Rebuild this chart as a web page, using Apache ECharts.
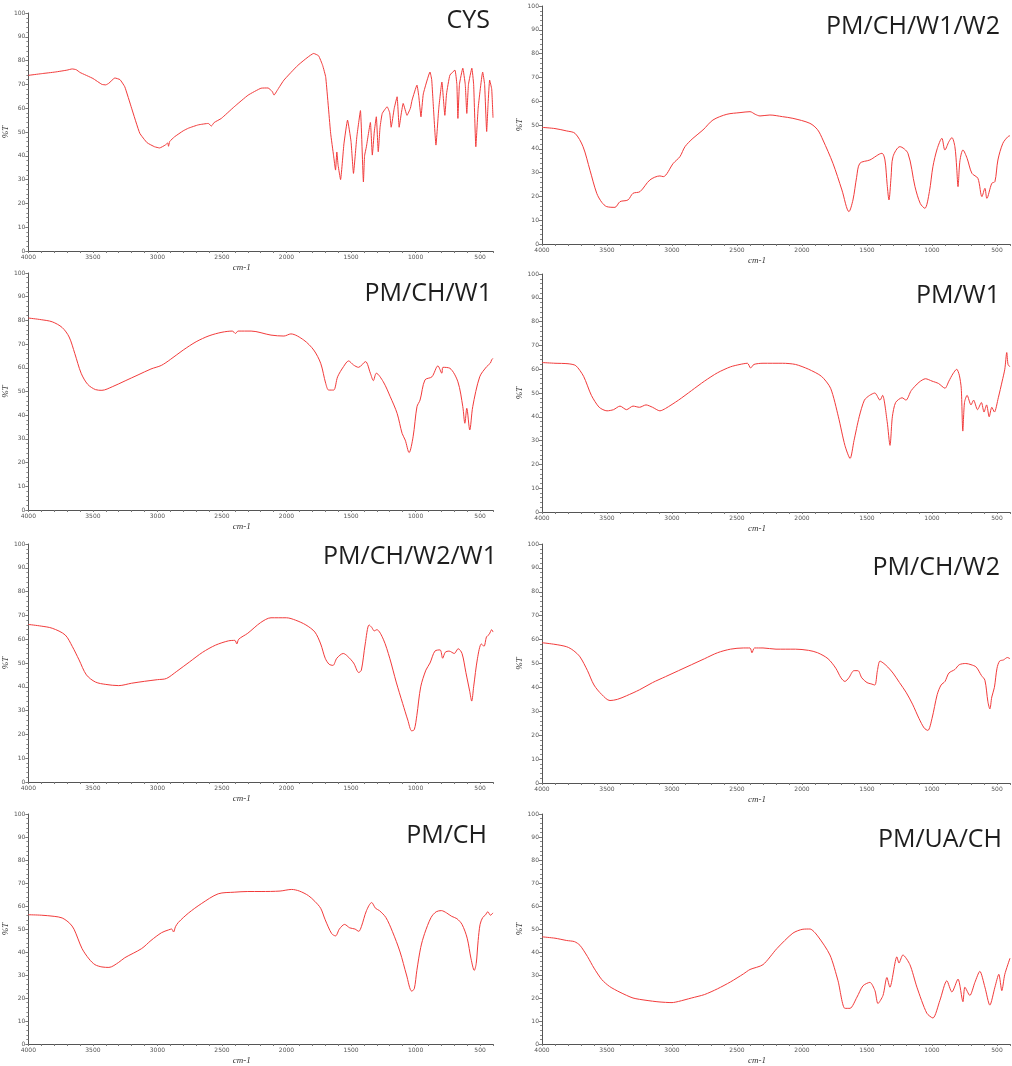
<!DOCTYPE html>
<html>
<head>
<meta charset="utf-8">
<script src="https://cdn.jsdelivr.net/npm/echarts@6/dist/echarts.min.js"></script>
<style>
  html, body { margin: 0; padding: 0; background: #fff; }
  #chart { width: 1012px; height: 1066px; }
</style>
</head>
<body>
<div id="chart"></div>
<script>
// ---- FT-IR transmittance spectra (%T vs wavenumber, cm-1) ----
const xTickLabels = [4000, 3500, 3000, 2500, 2000, 1500, 1000, 500];
const yTickLabels = [0, 10, 20, 30, 40, 50, 60, 70, 80, 90, 100];
const sampleNames = ['CYS', 'PM/CH/W1/W2', 'PM/CH/W1', 'PM/W1', 'PM/CH/W2/W1', 'PM/CH/W2', 'PM/CH', 'PM/UA/CH'];

const wnCYS = [4000,3900,3792,3700,3661,3630,3599,3500,3430,3400,3376,3330,3290,3253,3200,3137,3080,3022,2983,2940,2920,2914,2905,2867,2800,2760,2683,2606,2582,2560,2505,2405,2297,2197,2143,2110,2097,2060,2020,1912,1789,1751,1720,1696,1658,1635,1620,1610,1600,1581,1555,1527,1500,1481,1455,1427,1404,1395,1381,1350,1335,1320,1304,1289,1275,1258,1220,1200,1189,1165,1143,1127,1110,1096,1066,1040,1027,989,975,958,940,888,875,865,842,820,796,773,760,734,695,680,672,660,634,615,603,590,564,550,533,515,480,465,449,438,426,410,400];
const tCYS  = [73.8,74.5,75.2,76,76.5,76.2,75,72.5,70,69.8,70.5,72.7,72,69,60,49.5,45.5,43.8,43.3,44.5,45.4,44,46,48,50.5,51.6,53,53.6,52.5,54,55.7,60.6,65.5,68.4,68.5,67,65.5,68.5,71.8,78,83,82,78,73,49.5,40,34,41.6,36,30,45,55,46,32.6,48,59,29,40,43.8,54,40.3,50,56.4,41.7,52,57.8,60.6,58,52,60,64.8,52,58,62,57,60,63.4,69.7,65,56.4,66,75.2,72,63.4,44.5,60,71,57,66,73.9,76,70,55.7,70,76.8,70,57.8,70,76.8,70,43.8,60,75.2,70,50.2,62,71.8,68,56];

const wnW1W2 = [4000,3900,3810,3746,3685,3631,3579,3540,3502,3439,3400,3339,3300,3246,3170,3093,3067,2990,2939,2900,2839,2762,2685,2578,2477,2400,2360,2323,2247,2150,2070,1939,1880,1839,1762,1693,1639,1608,1580,1555,1478,1385,1362,1345,1331,1315,1300,1247,1185,1131,1090,1055,1020,993,960,924,901,870,847,824,810,800,785,762,730,693,647,616,593,578,540,516,493,455,416,400];
const tW1W2  = [49,48.5,47.5,46.5,41,31,21.3,17.5,15.7,15.4,17.8,18.5,21.3,22,26.9,28.6,28.3,33.9,36.7,40.9,44.4,47.9,52.1,54.5,55.2,55.6,54.5,53.8,54.2,53.5,52.8,50.7,48,43.7,33.9,22.7,13.6,18.5,28,33.9,35.3,38.1,35.3,25,18.5,28,36.7,40.9,38.1,24.1,17,15,22,32.5,40,44.4,39.5,43,44.7,40.9,32,24.1,35,39.5,36,29.7,27.6,19.9,23.4,19.2,25.5,26.2,35.3,42.3,45.1,45.5];

const wnW1 = [4000,3900,3815,3738,3684,3640,3591,3540,3480,3430,3350,3250,3150,3050,2970,2900,2800,2700,2600,2500,2420,2395,2375,2274,2120,2020,1966,1866,1789,1735,1696,1673,1635,1604,1558,1519,1481,1442,1388,1350,1327,1304,1250,1196,1143,1104,1080,1050,1019,989,965,927,873,827,796,788,734,672,634,618,603,580,557,503,449,420,411,400];
const tW1  = [81,80.3,79.4,77,73,66,57.7,53,50.8,50.5,52,54.5,57,59.5,61,63.5,67.5,71,73.5,75,75.5,74.5,75.5,75.5,73.8,73.4,74.3,71.7,67.5,61.9,53.4,50.6,50.6,56.2,60.5,62.9,61.2,60.2,62.6,57.7,54.6,57.7,54.1,47.8,40.8,32.3,29.5,24.2,30.9,43.6,46.4,54.9,56.2,60.8,57.7,60.2,59.8,54.1,43.6,36.6,42.9,33.8,43.6,56.2,60.5,62,63.3,64];

const wnPMW1 = [4000,3900,3800,3740,3680,3620,3560,3500,3450,3400,3350,3300,3250,3200,3150,3093,3050,2950,2850,2750,2650,2550,2477,2420,2395,2370,2300,2150,2050,1950,1850,1780,1720,1670,1630,1600,1560,1520,1480,1440,1400,1380,1345,1323,1305,1280,1230,1200,1160,1100,1050,1000,950,900,870,840,810,790,775,763,750,730,700,680,650,620,600,580,560,540,520,490,460,440,425,415,400];
const tPMW1  = [62.8,62.5,62.3,61.5,57,49,44,42.5,43,44.5,43,44.5,44,45,44,42.5,43.5,47,51,55,58.5,61,62,62.5,60.5,62,62.5,62.5,62,60,57,52,40,28,22.5,30,40,47,49,50,47,49,38,28,40,46,48,47,51,54.5,56,55,54,52,55,58,60,57.5,52,34,46,49,45,47,43,46,42,45,40,44,42,48,55,60,67,62,61];

const wnW2W1 = [4000,3900,3815,3715,3660,3607,3550,3480,3400,3300,3200,3100,3000,2930,2850,2750,2650,2550,2450,2400,2385,2370,2300,2200,2120,2000,1930,1850,1780,1735,1700,1670,1640,1610,1560,1530,1480,1440,1420,1390,1360,1340,1320,1300,1250,1200,1150,1100,1060,1030,1010,990,960,920,888,850,810,790,770,740,700,670,640,610,580,565,550,520,490,470,450,430,410,400];
const tW2W1  = [66.2,65.5,64.6,61.8,57,51.3,45,42,41,40.5,41.5,42.3,43,43.5,46.5,50.5,54.5,57.5,59.3,59.5,58,60,62.5,67,69,69,68,66,63,58,52,49.5,49,52,54,53,50,46,47,58,66,65,63.5,64,60,52,42,33,26,21.5,22,28,40,47,50,55,55.5,52,54.5,55,54,56,54,46,38,34,40,52,58,57,61,62,64,63];

const wnW2 = [4000,3900,3810,3760,3708,3650,3600,3540,3477,3420,3350,3250,3150,3050,2950,2850,2750,2650,2550,2450,2400,2385,2365,2300,2200,2050,1950,1880,1800,1740,1700,1670,1640,1600,1570,1540,1500,1470,1440,1420,1400,1370,1340,1300,1250,1200,1150,1100,1060,1032,1000,960,930,900,870,824,790,740,700,660,620,593,570,555,540,520,500,480,450,420,400];
const tW2  = [58.7,58,57,55.5,52.8,47,41,37,34.5,35,36.5,39,42,44.5,47,49.5,52,54.5,56,56.5,56.5,54.5,56.5,56.5,56,56,55.5,54.5,52,48,44,42.5,44,47,47,44,42,41.5,41,47,51,50,48.5,46,42,38,33,27,23,22,27,37,41,42.5,46,47.5,49.5,50,49.5,48.5,45,43,34,31,36,40,48,51,51.5,52.5,52];

const wnCH = [4000,3900,3800,3738,3680,3646,3584,3530,3484,3430,3376,3300,3253,3122,3050,2968,2914,2890,2875,2860,2837,2760,2660,2529,2405,2300,2197,2050,1960,1900,1830,1780,1735,1700,1650,1620,1590,1550,1510,1470,1440,1420,1380,1340,1310,1280,1230,1180,1120,1070,1030,1010,990,960,930,880,840,800,760,720,680,640,600,570,545,530,515,500,480,460,440,420,400];
const tCH  = [56.2,56,55.5,54.8,52.5,49.9,41.5,37,34.5,33.5,33.3,35.5,37.5,41.5,45,48.4,49.6,50,48.7,51,52.9,56.9,61,65.3,66,66.3,66.3,66.5,67.2,66.5,64.5,62,59,54,48,47,50,52,50.5,50,49,51,58,61.5,59,58,55,49,40,30,23,24,32,42,48,55,57.5,58,57,55.5,54.5,52,46,37,32,35,45,52,55,56,57.5,56,57];

const wnUA = [4000,3900,3810,3750,3708,3650,3600,3540,3480,3400,3300,3200,3100,3000,2950,2850,2750,2650,2550,2450,2400,2300,2193,2070,1993,1939,1880,1785,1723,1670,1631,1577,1531,1478,1439,1416,1377,1347,1324,1270,1254,1224,1170,1116,1040,993,939,886,847,800,762,747,709,670,632,593,555,516,486,463,440,400];
const tUA  = [46.6,46,45,44.5,42.9,38,33,28,25,22.5,20,19,18.3,18,18.5,20,21.5,24,27,30.5,32.4,34.5,41.5,48.2,49.9,50,47,38.7,27.5,15.5,15.5,20.4,25.3,26.8,23.2,17.6,21.1,28.9,24.7,37.9,35.2,38.7,34.5,24.7,13.4,11.3,19,27.5,22.6,28.2,18.4,24.7,21.1,26.8,31.6,24.7,16.9,24.7,30.3,23.2,30.3,37.3];

const spectra = [
  [wnCYS, tCYS], [wnW1W2, tW1W2], [wnW1, tW1], [wnPMW1, tPMW1],
  [wnW2W1, tW2W1], [wnW2, tW2], [wnCH, tCH], [wnUA, tUA]
];

// ---- panel layout (pixels) ----
const panels = [
  { left: 26,  top: 13,  width: 467, height: 238, titleRight: 490,  titleY: 21,  smooth: 0.12 },
  { left: 542, top: 6,   width: 468, height: 238, titleRight: 1000, titleY: 27,  smooth: 0.3 },
  { left: 26,  top: 273, width: 467, height: 237, titleRight: 492,  titleY: 294, smooth: 0.3 },
  { left: 542, top: 274, width: 468, height: 238, titleRight: 1000, titleY: 296, smooth: 0.25 },
  { left: 26,  top: 544, width: 467, height: 238, titleRight: 497,  titleY: 557, smooth: 0.3 },
  { left: 542, top: 544, width: 468, height: 239, titleRight: 1000, titleY: 568, smooth: 0.3 },
  { left: 26,  top: 814, width: 467, height: 238, titleRight: 487,  titleY: 836, smooth: 0.3 },
  { left: 542, top: 814, width: 468, height: 238, titleRight: 1002, titleY: 840, smooth: 0.25 }
];

const minorX = [];
for (let v = 400; v <= 4000; v += 100) minorX.push(v);

const axisColor = '#555';
const labelStyle = { fontSize: 6, color: '#555', fontFamily: 'DejaVu Sans' };
const nameStyle = { fontSize: 9, color: '#333', fontStyle: 'italic', fontFamily: 'Liberation Serif' };

const option = {
  backgroundColor: '#fff',
  animation: false,
  grid: panels.map(p => ({ left: p.left, top: p.top, width: p.width, height: p.height })),
  xAxis: panels.map((p, i) => ({
    gridIndex: i,
    type: 'value',
    min: 400, max: 4000, interval: 100,
    inverse: true,
    name: 'cm-1',
    nameLocation: 'middle',
    nameGap: 12,
    nameTextStyle: Object.assign({ padding: [0, 38, 0, 0] }, nameStyle),
    axisLine: { show: true, onZero: false, lineStyle: { color: axisColor, width: 1 } },
    axisTick: { show: true, length: 2, customValues: minorX, lineStyle: { color: '#777' } },
    axisLabel: Object.assign({ customValues: xTickLabels, margin: 3, formatter: v => String(v) }, labelStyle),
    splitLine: { show: false }
  })),
  yAxis: panels.map((p, i) => ({
    gridIndex: i,
    type: 'value',
    min: 0, max: 100, interval: 10,
    name: '%T',
    nameLocation: 'middle',
    nameGap: 14,
    nameRotate: 90,
    nameTextStyle: nameStyle,
    axisLine: { show: true, onZero: false, lineStyle: { color: axisColor, width: 1 } },
    axisTick: { show: true, length: 3, lineStyle: { color: '#777' } },
    minorTick: { show: true, splitNumber: 5, length: 2, lineStyle: { color: '#888' } },
    axisLabel: Object.assign({ customValues: yTickLabels, margin: 3, formatter: v => String(v) }, labelStyle),
    splitLine: { show: false },
    minorSplitLine: { show: false }
  })),
  series: spectra.map(([wn, t], i) => ({
    name: sampleNames[i],
    type: 'line',
    xAxisIndex: i,
    yAxisIndex: i,
    data: wn.map((w, k) => [w, t[k]]),
    showSymbol: false,
    symbol: 'none',
    smooth: panels[i].smooth,
    lineStyle: { color: '#f23b3b', width: 1 }
  })),
  graphic: panels.map((p, i) => ({
    type: 'text',
    x: p.titleRight,
    y: p.titleY,
    style: {
      text: sampleNames[i],
      fill: '#1e1e1e',
      font: '25px "Open Sans"',
      align: 'right',
      verticalAlign: 'middle'
    }
  }))
};

const chart = echarts.init(document.getElementById('chart'), null, { renderer: 'canvas' });
chart.setOption(option);
</script>
</body>
</html>
